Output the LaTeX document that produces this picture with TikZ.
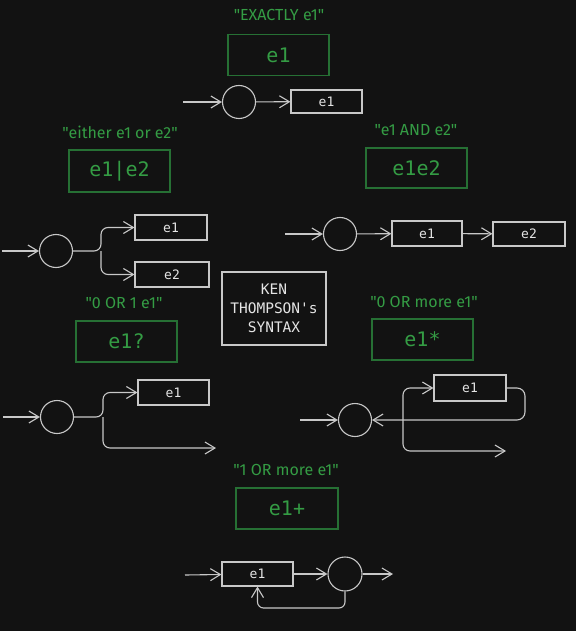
\documentclass[tikz,border=0pt]{standalone}
\usepackage{fontspec}
\usetikzlibrary{arrows.meta}
\newfontfamily\lblfont{Fira Sans}
\newfontfamily\codefont{DejaVu Sans Mono}
\definecolor{bgc}{RGB}{18,18,18}
\definecolor{lc}{RGB}{200,200,200}
\definecolor{tc}{RGB}{228,228,228}
\definecolor{gtext}{RGB}{52,156,68}
\definecolor{gline}{RGB}{38,112,52}
\tikzset{
  lbl/.style={text=gtext, font=\lblfont\fontsize{16}{18}\selectfont, inner sep=0pt},
  gbox/.style={draw=gline, line width=1.1pt, minimum width=101pt, minimum height=41pt, inner sep=0pt, text=gtext, font=\codefont\fontsize{20}{22}\selectfont},
  sbox/.style={draw=lc, line width=1.1pt, minimum width=71pt, minimum height=25pt, inner sep=0pt, text=tc, font=\codefont\fontsize{13}{15}\selectfont},
  st/.style={circle, draw=lc, line width=1.1pt, minimum size=33pt, inner sep=0pt},
  arr/.style={draw=lc, line width=1.1pt, -{Straight Barb[length=10pt,width=12pt,line width=1.1pt]}},
}
\begin{document}
\begin{tikzpicture}[x=1pt,y=-1pt]
\fill[bgc] (0,0) rectangle (576,631);
\useasboundingbox (0,0) rectangle (576,631);

% 1 exactly
\node[lbl] (l1) at (279,15) {"EXACTLY e1"};
\node[gbox] (g1) at (278.5,55) {e1};
\coordinate (i1) at (183,102);
\node[st] (c1) at (239,102) {};
\node[sbox, minimum height=23pt] (b1) at (326.5,101.5) {e1};
\draw[arr] (i1) -- (c1);
\draw[arr] (c1) -- (b1);

% 2 either
\node[lbl] (l2) at (120,132) {"either e1 or e2"};
\node[gbox, minimum height=42pt] (g2) at (119.5,171) {e1|e2};
\coordinate (i2) at (2,251);
\node[st] (c2) at (56,251) {};
\node[sbox, minimum width=72pt] (b2a) at (171,227.5) {e1};
\node[sbox, minimum width=74pt] (b2b) at (172,274.5) {e2};
\coordinate (j2) at (101,251);
\draw[arr] (i2) -- (c2);
\draw[arr, rounded corners=7pt] (c2) -- (j2) |- (b2a.west);
\draw[arr, rounded corners=7pt] (j2) |- (b2b.west);

% 3 and
\node[lbl] (l3) at (416,130) {"e1 AND e2"};
\node[gbox, minimum height=40pt] (g3) at (416.5,168) {e1e2};
\coordinate (i3) at (285,234);
\node[st] (c3) at (340,234) {};
\node[sbox, minimum width=70pt] (b3a) at (427,233.5) {e1};
\node[sbox, minimum width=72pt, minimum height=24pt] (b3b) at (529,234) {e2};
\draw[arr] (i3) -- (c3);
\draw[arr] (c3) -- (b3a);
\draw[arr] (b3a) -- (b3b);

% 4 zero or one
\node[lbl] (l4) at (124,303) {"0 OR 1 e1"};
\node[gbox] (g4) at (126.5,341.5) {e1?};
\coordinate (i4) at (3,417);
\node[st] (c4) at (57,417) {};
\node[sbox] (b4) at (173.5,392.5) {e1};
\coordinate (j4) at (103,417);
\coordinate (e4) at (216,448);
\draw[arr] (i4) -- (c4);
\draw[arr, rounded corners=7pt] (c4) -- (j4) |- (b4.west);
\draw[arr, rounded corners=7pt] (j4) |- (e4);

% 5 zero or more
\node[lbl] (l5) at (424,302) {"0 OR more e1"};
\node[gbox] (g5) at (422.5,339.5) {e1*};
\coordinate (i5) at (300,420);
\node[st] (c5) at (355,420) {};
\node[sbox, minimum width=72pt, minimum height=26pt] (b5) at (470,388) {e1};
\coordinate (j5) at (403,420);
\coordinate (r5) at (525,420);
\coordinate (e5) at (506,451);
\draw[arr] (i5) -- (c5);
\draw[arr, rounded corners=8pt] (b5.east) -| (r5) -- (c5);
\draw[arr, rounded corners=7pt] (j5) |- (b5.west);
\draw[arr, rounded corners=7pt] (j5) |- (e5);

% 6 one or more
\node[lbl] (l6) at (286,470) {"1 OR more e1"};
\node[gbox, minimum width=102pt] (g6) at (287,508.5) {e1+};
\coordinate (i6) at (185,575);
\node[sbox, minimum height=24pt] (b6) at (257.5,574) {e1};
\node[st, minimum size=34pt] (c6) at (345,574) {};
\coordinate (o6) at (393,574);
\coordinate (k6) at (257.5,608);
\draw[arr] (i6) -- (b6);
\draw[arr] (b6) -- (c6);
\draw[arr] (c6) -- (o6);
\draw[arr, rounded corners=6pt] (c6.south) |- (k6) -- (b6.south);

% title
\node[draw=lc, line width=1.1pt, minimum width=104pt, minimum height=73pt, inner sep=0pt, align=center, text=tc, font=\codefont\fontsize{14.5}{19}\selectfont] (ken) at (274,308.5) {KEN\\THOMPSON's\\SYNTAX};
\end{tikzpicture}
\end{document}
